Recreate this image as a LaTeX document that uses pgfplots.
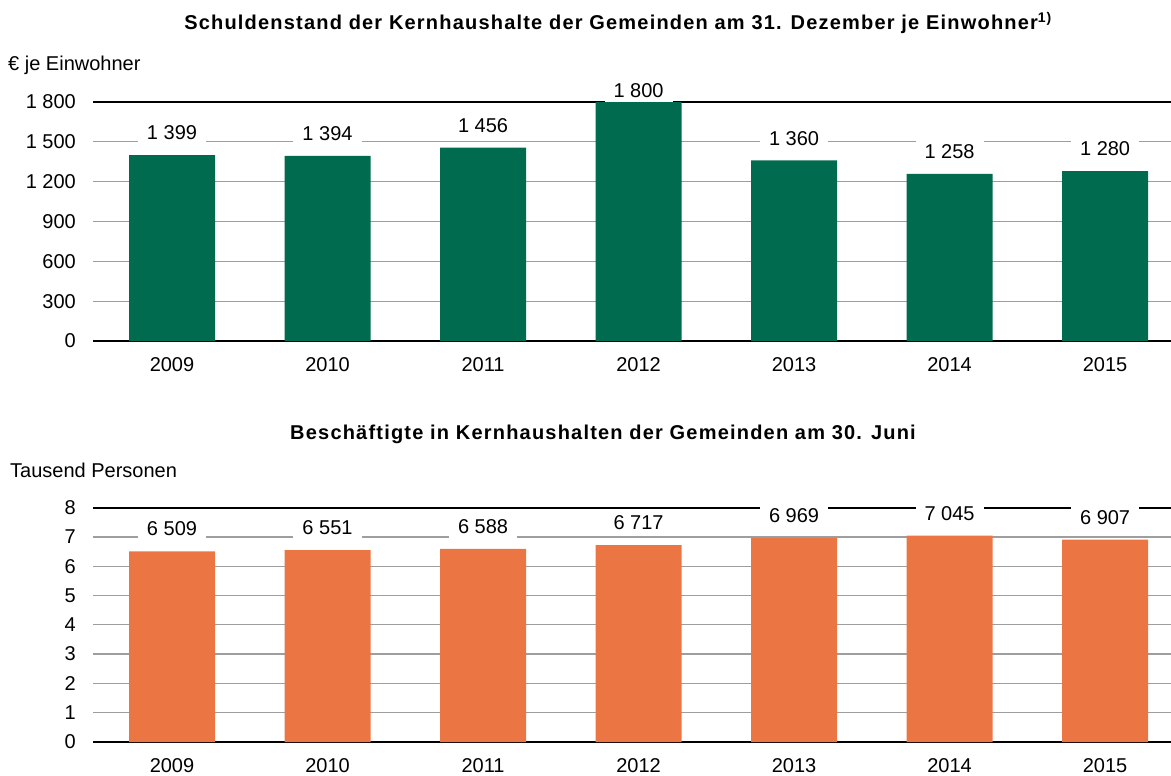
\documentclass[border=0pt]{standalone}
\usepackage{fontspec}
\setmainfont{Liberation Sans}
\newfontfamily\titlefont[LetterSpace=6]{Liberation Sans}
\usepackage{pgfplots}
\pgfplotsset{compat=1.18}
\usepackage{pgfplotstable}
\definecolor{bargreen}{RGB}{0,107,79}
\definecolor{barorange}{RGB}{236,117,68}
\definecolor{gridgray}{RGB}{158,158,158}

\pgfplotstableread{
x y off
0 1399 10
1 1394 10
2 1456 10
3 1800 -0.5
4 1360 10
5 1258 10
6 1280 10
}\topdata
\pgfplotstableread{
x y m off
0 6.509 6509 10
1 6.551 6551 10
2 6.588 6588 10
3 6.717 6717 10
4 6.969 6969 10
5 7.045 7045 10
6 6.907 6907 10
}\botdata

\pgfplotsset{
  mybars/.style={
    scale only axis, width=1078pt,
    xmin=-0.508, xmax=6.424,
    ybar, bar width=86pt,
    xtick={0,1,2,3,4,5,6},
    xticklabels={2009,2010,2011,2012,2013,2014,2015},
    axis line style={draw=none}, tick style={draw=none},
    ymajorgrids, major grid style={gridgray, line width=1.3pt},
    /pgf/number format/assume math mode=true,
    /pgf/number format/1000 sep={\ },
    ticklabel style={font=\fontsize{20}{24}\selectfont, inner sep=0pt},
    yticklabel style={anchor=east, xshift=-17pt},
    xticklabel style={anchor=center, yshift=-19pt},
    extra y tick labels={},
    extra y tick style={major grid style={black, line width=1.8pt}},
    clip=false,
    nodes near coords,
    every node near coord/.append style={font=\fontsize{20}{24}\selectfont, fill=white, anchor=south, inner xsep=9pt, inner ysep=5pt, yshift=\myoff pt},
    visualization depends on={\thisrow{off} \as \myoff},
  }
}

\begin{document}
\begin{tikzpicture}[x=1pt,y=1pt]
\path[use as bounding box] (0,0) rectangle (1171,-776);

\begin{axis}[mybars, anchor=south west, at={(93pt,-341pt)}, height=239pt,
  ymin=0, ymax=1800, ytick={0,300,...,1800}, extra y ticks={0,1800}]
  \addplot[fill=bargreen, draw=none, point meta=y] table[x=x,y=y]{\topdata};
\end{axis}

\begin{axis}[mybars, anchor=south west, at={(93pt,-742pt)}, height=234.4pt,
  ymin=0, ymax=8, ytick={0,1,...,8}, extra y ticks={0,8}]
  \addplot[fill=barorange, draw=none, point meta=explicit] table[x=x,y=y,meta=m]{\botdata};
\end{axis}

\node[anchor=base, font=\titlefont\bfseries\fontsize{20}{24}\selectfont, inner sep=0pt] at (618,-30) {Schuldenstand der Kernhaushalte der Gemeinden am 31. Dezember je Einwohner\textsuperscript{1)}};
\node[anchor=base, font=\titlefont\bfseries\fontsize{20}{24}\selectfont, inner sep=0pt] at (603,-439) {Beschäftigte in Kernhaushalten der Gemeinden am 30. Juni};
\node[anchor=base west, font=\fontsize{20}{24}\selectfont, inner sep=0pt] at (8,-71) {€ je Einwohner};
\node[anchor=base west, font=\fontsize{20}{24}\selectfont, inner sep=0pt] at (10,-477) {Tausend Personen};
\end{tikzpicture}
\end{document}
